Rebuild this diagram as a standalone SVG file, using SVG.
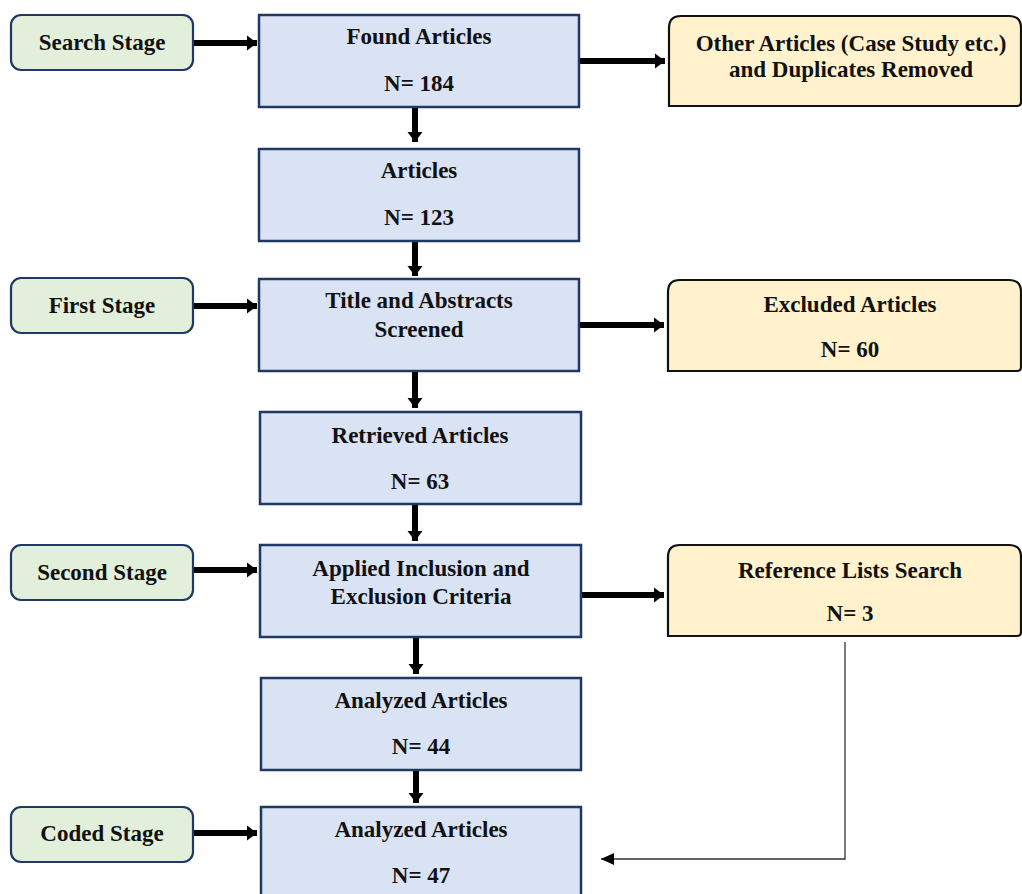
<svg xmlns="http://www.w3.org/2000/svg" width="1022" height="894" viewBox="0 0 1022 894">
<style>
.stage{fill:#E2EFDA;stroke:#1F3864;stroke-width:2.2}
.box{fill:#DAE3F3;stroke:#1F3864;stroke-width:2.5}
.out{fill:#FFF2CC;stroke:#111;stroke-width:2.2}
.thick{stroke:#000;stroke-width:6;fill:none}
.thin{stroke:#333;stroke-width:1.3;fill:none}
</style>
<defs>
<marker id="ah" markerUnits="userSpaceOnUse" markerWidth="11" markerHeight="18" refX="10" refY="9" orient="auto">
<path d="M0,1.5 L10,9 L0,16.5 Z" fill="#000"/>
</marker>
<marker id="ahs" markerUnits="userSpaceOnUse" markerWidth="14" markerHeight="12" refX="13" refY="6" orient="auto">
<path d="M0,0 L13,6 L0,12 Z" fill="#000"/>
</marker>
</defs>
<rect width="1022" height="894" fill="#fff"/>
<g id="connectors">
<line class="thick" x1="194" y1="43" x2="257" y2="43" marker-end="url(#ah)"/>
<line class="thick" x1="194" y1="306" x2="257" y2="306" marker-end="url(#ah)"/>
<line class="thick" x1="194" y1="570" x2="257" y2="570" marker-end="url(#ah)"/>
<line class="thick" x1="194" y1="833" x2="257" y2="833" marker-end="url(#ah)"/>
<line class="thick" x1="580" y1="61" x2="665" y2="61" marker-end="url(#ah)"/>
<line class="thick" x1="580" y1="325" x2="664" y2="325" marker-end="url(#ah)"/>
<line class="thick" x1="582" y1="595" x2="664" y2="595" marker-end="url(#ah)"/>
<line class="thick" x1="415" y1="108" x2="415" y2="142" marker-end="url(#ah)"/>
<line class="thick" x1="415" y1="242" x2="415" y2="276" marker-end="url(#ah)"/>
<line class="thick" x1="415" y1="372" x2="415" y2="408" marker-end="url(#ah)"/>
<line class="thick" x1="415" y1="505" x2="415" y2="541" marker-end="url(#ah)"/>
<line class="thick" x1="416" y1="638" x2="416" y2="674" marker-end="url(#ah)"/>
<line class="thick" x1="416" y1="771" x2="416" y2="803" marker-end="url(#ah)"/>
<path class="thin" d="M845,642 V859 H601" marker-end="url(#ahs)"/>
</g>
<g font-family="Liberation Serif, 'Times New Roman', serif" font-weight="bold" font-size="23" fill="#111" text-anchor="middle">
<g id="search-stage"><rect class="stage" x="11" y="15" width="182" height="55" rx="10"/><text x="102" y="50">Search Stage</text></g>
<g id="first-stage"><rect class="stage" x="11" y="278" width="182" height="55" rx="10"/><text x="102" y="313">First Stage</text></g>
<g id="second-stage"><rect class="stage" x="11" y="545" width="182" height="55" rx="10"/><text x="102" y="580">Second Stage</text></g>
<g id="coded-stage"><rect class="stage" x="11" y="807" width="182" height="55" rx="10"/><text x="102" y="841">Coded Stage</text></g>
<g id="found"><rect class="box" x="259" y="15" width="320" height="92"/><text x="419" y="44">Found Articles</text><text x="419" y="91">N= 184</text></g>
<g id="articles"><rect class="box" x="259" y="149" width="320" height="92"/><text x="419" y="178">Articles</text><text x="419" y="225">N= 123</text></g>
<g id="title"><rect class="box" x="259" y="279" width="320" height="92"/><text x="419" y="308">Title and Abstracts</text><text x="419" y="337">Screened</text></g>
<g id="retrieved"><rect class="box" x="260" y="412" width="321" height="92"/><text x="420" y="443">Retrieved Articles</text><text x="420" y="489">N= 63</text></g>
<g id="applied"><rect class="box" x="260" y="545" width="321" height="92"/><text x="421" y="576">Applied Inclusion and</text><text x="421" y="604">Exclusion Criteria</text></g>
<g id="analyzed44"><rect class="box" x="261" y="678" width="320" height="92"/><text x="421" y="708">Analyzed Articles</text><text x="421" y="754">N= 44</text></g>
<g id="analyzed47"><rect class="box" x="261" y="807" width="320" height="100"/><text x="421" y="837">Analyzed Articles</text><text x="421" y="883">N= 47</text></g>
<g id="other"><path class="out" d="M669,106 V28 Q669,16 681,16 H1009 Q1021,16 1021,28 V102 Q1021,106 1017,106 Z"/><text x="851" y="51">Other Articles (Case Study etc.)</text><text x="851" y="77">and Duplicates Removed</text></g>
<g id="excluded"><path class="out" d="M668,371 V292 Q668,280 680,280 H1009 Q1021,280 1021,292 V367 Q1021,371 1017,371 Z"/><text x="850" y="312">Excluded Articles</text><text x="850" y="357">N= 60</text></g>
<g id="reference"><path class="out" d="M668,636 V557 Q668,545 680,545 H1009 Q1021,545 1021,557 V632 Q1021,636 1017,636 Z"/><text x="850" y="578">Reference Lists Search</text><text x="850" y="621">N= 3</text></g>
</g>
</svg>
